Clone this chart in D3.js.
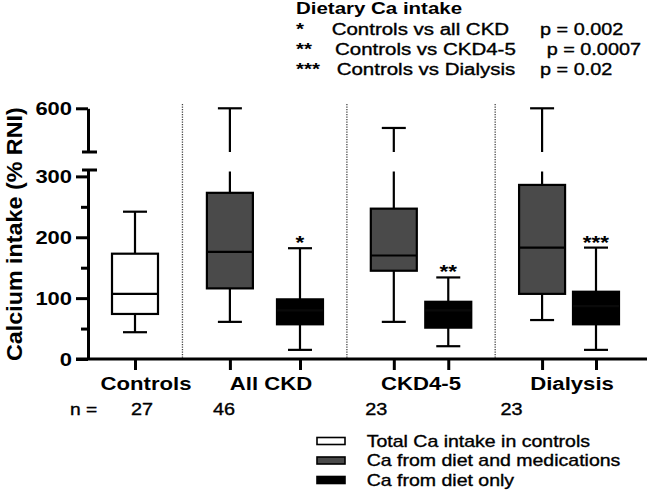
<!DOCTYPE html>
<html>
<head>
<meta charset="utf-8">
<script src="https://cdn.jsdelivr.net/npm/d3@7"></script>
<style>
  html, body { margin: 0; padding: 0; background: #fff; }
  svg { display: block; font-family: "Liberation Sans", Arial, Helvetica, sans-serif; }
</style>
</head>
<body>
<svg id="chart" width="649" height="493"></svg>
<script>
// ---------------- DATA ----------------
const groups = ["Controls", "All CKD", "CKD4-5", "Dialysis"];
const nCounts = [27, 46, 23, 23];
const seriesNames = ["Total Ca intake in controls", "Ca from diet and medications", "Ca from diet only"];

// one entry per box
const boxGroup  = ["Controls", "All CKD", "All CKD", "CKD4-5", "CKD4-5", "Dialysis", "Dialysis"];
const boxSeries = [0, 1, 2, 1, 2, 1, 2];
const boxMin    = [44, 61, 15, 61, 21, 64, 15];
const boxQ1     = [74, 116, 57, 145, 51.5, 107, 57];
const boxMedian = [107, 176, 80, 170, 80, 183, 87];
const boxQ3     = [173, 273, 98, 247, 94, 286, 110.5];
const boxMax    = [242, 600, 182, 555, 134, 600, 183];
const boxStars  = ["", "", "*", "", "**", "", "***"];

const yTicksLower = [0, 100, 200, 300];
const yTicksMinor = [50, 150, 250];
const yTicksUpper = [600];

const statTitle = "Dietary Ca intake";
const statStars = ["*", "**", "***"];
const statComparisons = ["Controls vs all CKD", "Controls vs CKD4-5", "Controls vs Dialysis"];
const statP = ["p = 0.002", "p = 0.0007", "p = 0.02"];

const yTitle = "Calcium intake (% RNI)";

// ---------------- LAYOUT / STYLE ----------------
const seriesFill = ["#ffffff", "#4a4a4a", "#000000"];
const boxSlot = [0, 1.76, 3.06, 4.8, 5.81, 7.55, 8.55];   // horizontal slot of each box
const groupLabelDx = [11, 6, 0, 3];
const nLabelDx = [-4, -17, -28.5, -41.5];

const svg = d3.select("#chart");
const x = d3.scaleLinear().domain([0, 8.55]).range([135, 596]);
const lowerTop = 310.5, upperBottom = 500;
const yLo = d3.scaleLinear().domain([0, lowerTop]).range([359, 170]);
const yHi = d3.scaleLinear().domain([upperBottom, 600]).range([152, 108.3]);
const axisX = 88;
const boxW = x(0.853) - x(0);
const capW = 24;

function label(g, px, py, str, size, weight, anchor, sx) {
  const t = g.append("text")
    .attr("transform", `translate(${px},${py}) scale(${sx},1)`)
    .attr("text-anchor", anchor)
    .attr("font-size", size)
    .attr("font-weight", weight)
    .attr("fill", "#000")
    .text(str);
  if (weight === "normal") t.attr("stroke", "#000").attr("stroke-width", 0.35);
  return t;
}

// ---- dotted dividers between groups ----
const groupSlots = groups.map(gn => boxSlot.filter((s, i) => boxGroup[i] === gn));
const groupMid = groupSlots.map(s => (d3.min(s) + d3.max(s)) / 2);
for (let k = 0; k < groups.length - 1; k++) {
  const dx = x((d3.max(groupSlots[k]) + d3.min(groupSlots[k + 1])) / 2);
  svg.append("line")
    .attr("x1", dx).attr("x2", dx).attr("y1", 104).attr("y2", yLo(0))
    .attr("stroke", "#444").attr("stroke-width", 1.3).attr("stroke-dasharray", "1.2,1.3");
}

// ---- Y axis: lower segment ----
function styleTickText(sel) {
  sel.selectAll(".tick text").each(function() {
    d3.select(this).attr("x", null).attr("dy", "0.36em")
      .attr("transform", "translate(-16,0) scale(1.22,1)")
      .attr("font-size", 18).attr("font-weight", "bold")
      .attr("font-family", null).attr("fill", "#000");
  });
}
const gLo = svg.append("g").attr("transform", `translate(${axisX},0)`)
  .call(d3.axisLeft(yLo).tickValues(yTicksLower).tickSize(12).tickSizeOuter(0).tickFormat(d3.format("d")));
gLo.select(".domain").attr("stroke-width", 3);
gLo.selectAll(".tick line").attr("stroke-width", 3);
styleTickText(gLo);
const gMinor = svg.append("g").attr("transform", `translate(${axisX},0)`)
  .call(d3.axisLeft(yLo).tickValues(yTicksMinor).tickSize(7).tickSizeOuter(0).tickFormat(""));
gMinor.select(".domain").remove();
gMinor.selectAll(".tick line").attr("stroke-width", 3);
svg.append("line").attr("x1", axisX - 6).attr("x2", axisX + 9)
  .attr("y1", yLo(lowerTop)).attr("y2", yLo(lowerTop)).attr("stroke", "#000").attr("stroke-width", 3);

// ---- Y axis: upper segment ----
const gHi = svg.append("g").attr("transform", `translate(${axisX},0)`)
  .call(d3.axisLeft(yHi).tickValues(yTicksUpper).tickSize(12).tickSizeOuter(0).tickFormat(d3.format("d")));
gHi.select(".domain").attr("stroke-width", 3);
gHi.selectAll(".tick line").attr("stroke-width", 3);
styleTickText(gHi);
svg.append("line").attr("x1", axisX - 6).attr("x2", axisX + 9)
  .attr("y1", yHi(upperBottom)).attr("y2", yHi(upperBottom)).attr("stroke", "#000").attr("stroke-width", 3);

// ---- X axis ----
svg.append("line").attr("x1", 76).attr("x2", 647).attr("y1", yLo(0)).attr("y2", yLo(0))
  .attr("stroke", "#000").attr("stroke-width", 3);
const gX = svg.append("g").attr("transform", `translate(0,${yLo(0)})`)
  .call(d3.axisBottom(x).tickValues(boxSlot).tickSize(11).tickSizeOuter(0).tickFormat(""));
gX.select(".domain").remove();
gX.selectAll(".tick line").attr("stroke-width", 3);

// ---- Y title ----
svg.append("text")
  .attr("transform", `translate(21.5,${(yHi(600) + yLo(0)) / 2 + 0.5}) rotate(-90) scale(1.06,1)`)
  .attr("text-anchor", "middle").attr("font-size", 22).attr("font-weight", "bold")
  .text(yTitle);

// ---- Boxes ----
function yVal(v) { return v > lowerTop ? yHi(v) : yLo(v); }
boxSlot.forEach((s, i) => {
  const cx = x(s);
  const g = svg.append("g");
  const line = (x1, y1, x2, y2) => g.append("line").attr("x1", x1).attr("y1", y1).attr("x2", x2).attr("y2", y2)
    .attr("stroke", "#000").attr("stroke-width", 2.2);
  // upper whisker
  if (boxMax[i] > lowerTop) {
    line(cx, yHi(boxMax[i]), cx, yHi(upperBottom));
    line(cx, yLo(lowerTop) + 1.5, cx, yLo(boxQ3[i]));
  } else {
    line(cx, yLo(boxMax[i]), cx, yLo(boxQ3[i]));
  }
  line(cx - capW / 2, yVal(boxMax[i]), cx + capW / 2, yVal(boxMax[i]));
  // lower whisker
  line(cx, yLo(boxQ1[i]), cx, yLo(boxMin[i]));
  line(cx - capW / 2, yLo(boxMin[i]), cx + capW / 2, yLo(boxMin[i]));
  // box
  g.append("rect").attr("x", cx - boxW / 2).attr("width", boxW)
    .attr("y", yLo(boxQ3[i])).attr("height", yLo(boxQ1[i]) - yLo(boxQ3[i]))
    .attr("fill", seriesFill[boxSeries[i]]).attr("stroke", "#000").attr("stroke-width", 2.2);
  line(cx - boxW / 2, yLo(boxMedian[i]), cx + boxW / 2, yLo(boxMedian[i]))
    .attr("stroke", boxSeries[i] === 2 ? "#0a0a0a" : "#000");
  // significance stars
  if (boxStars[i]) {
    label(svg, cx, yVal(boxMax[i]) + 1, boxStars[i], 18, "bold", "middle", 1.25);
  }
});

// ---- Group labels & n ----
groups.forEach((gn, k) => {
  label(svg, x(groupMid[k]) + groupLabelDx[k], 389.5, gn, 18, "bold", "middle", 1.23);
  label(svg, x(d3.min(groupSlots[k])) + nLabelDx[k], 415, String(nCounts[k]), 16, "normal", "start", 1.24);
});
label(svg, 70, 415, "n =", 16, "normal", "start", 1.2);

// ---- Statistics legend (top) ----
const stat = svg.append("g");
label(stat, 296, 14, statTitle, 16, "bold", "start", 1.28);
const compX = [331.7, 335, 336.7];
const pX = [540, 546.7, 540];
statComparisons.forEach((c, k) => {
  const by = 35 + k * 20;
  label(stat, 296, by, statStars[k], 16, "bold", "start", 1.28);
  label(stat, compX[k], by, c, 16, "normal", "start", 1.28);
  label(stat, pX[k], by, statP[k], 16, "normal", "start", 1.24);
});

// ---- Series legend (bottom) ----
const leg = svg.append("g");
seriesNames.forEach((nm, k) => {
  const cy = 441 + k * 19.5;
  leg.append("rect").attr("x", 317).attr("y", cy - 3.5).attr("width", 28).attr("height", 7)
    .attr("fill", seriesFill[k]).attr("stroke", "#000").attr("stroke-width", 1.6);
  label(leg, 366.7, cy + 5.8, nm, 16, "normal", "start", 1.22);
});
</script>
</body>
</html>
